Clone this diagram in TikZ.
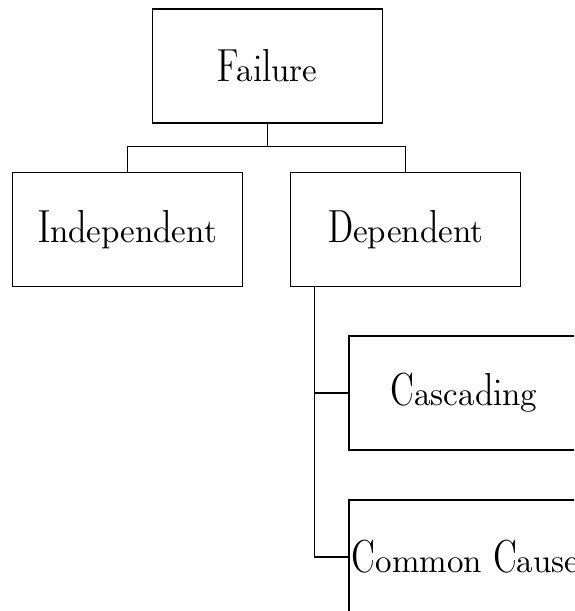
\documentclass[tikz,border=0pt]{standalone}
\usepackage{fontspec}
\setmainfont{lmromandunh10-regular.otf}
\begin{document}
\begin{tikzpicture}[x=1pt,y=-1pt,
  box/.style={draw,line width=1.3pt,minimum width=230pt,minimum height=114pt,inner sep=3pt,font=\fontsize{33}{40}\selectfont},
  link/.style={line width=1.3pt}]
\useasboundingbox (0,0) rectangle (574,611);
\clip (0,0) rectangle (574,611);
\node[box] (fail) at (267.7,66) {Failure};
\node[box] (ind) at (127.5,229.7) {Independent};
\node[box] (dep) at (405.7,229.7) {Dependent};
\node[box,anchor=west] (cas) at (348.3,393) {Cascading};
\node[box,anchor=west] (cc) at (348.3,557) {Common Cause};
\coordinate (bar) at (0,146.7);
\draw[link] (fail.south) -- (fail.south |- bar);
\draw[link] (ind.north) |- (bar -| dep.north) -- (dep.north);
\coordinate (dx) at (314.3,0);
\draw[link] (dep.south -| dx) |- (cc.west);
\draw[link] (cas.west) -- (cas.west -| dx);
\end{tikzpicture}
\end{document}
